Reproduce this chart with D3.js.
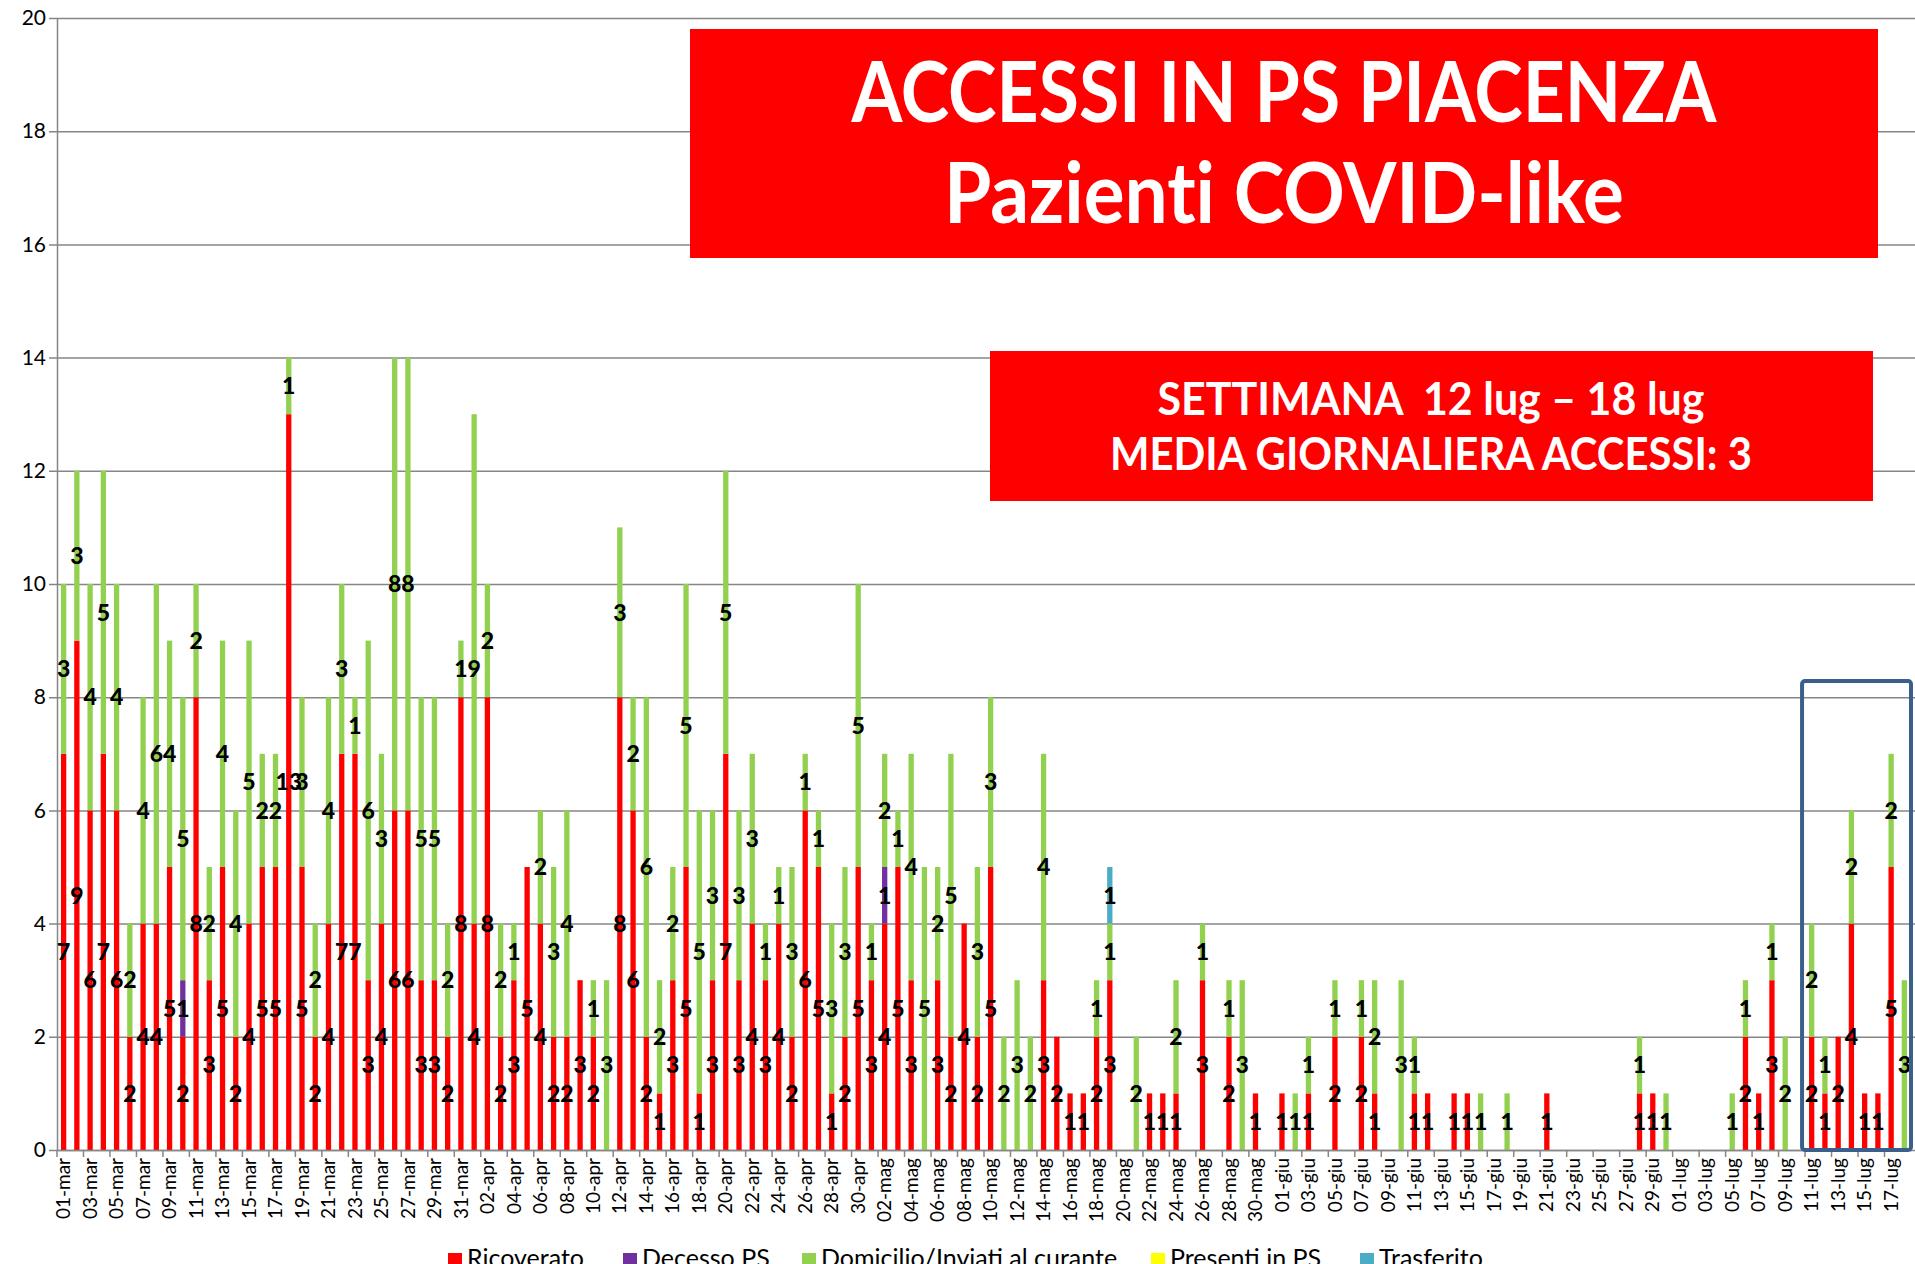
<!DOCTYPE html>
<html>
<head>
<meta charset="utf-8">
<script src="https://cdn.jsdelivr.net/npm/d3@7"></script>
<style>
  body { margin: 0; background: #fff; overflow: hidden; }
</style>
</head>
<body>
<script>
// giorni 01-mar .. 18-lug
const months = [['mar', 31], ['apr', 30], ['mag', 31], ['giu', 30], ['lug', 18]]
const days = []
months.forEach(([m, n]) => {
  for (let i = 1; i <= n; i++) days.push(String(i).padStart(2, '0') + '-' + m)
})

const ricoverato = [
  7, 9, 6, 7, 6, 2, 4, 4, 5, 2, 8, 3, 5, 2, 4, 5, 5, 13, 5, 2, 4, 7, 7, 3, 4, 6, 6, 3, 3, 2, 8,
  4, 8, 2, 3, 5, 4, 2, 2, 3, 2, 0, 8, 6, 2, 1, 3, 5, 1, 3, 7, 3, 4, 3, 4, 2, 6, 5, 1, 2, 5,
  3, 4, 5, 3, 0, 3, 2, 4, 2, 5, 0, 0, 0, 3, 2, 1, 1, 2, 3, 0, 0, 1, 1, 1, 0, 3, 0, 2, 0, 1, 0,
  1, 0, 1, 0, 2, 0, 2, 1, 0, 0, 1, 1, 0, 1, 1, 0, 0, 0, 0, 0, 1, 0, 0, 0, 0, 0, 0, 1, 1, 0,
  0, 0, 0, 0, 0, 2, 1, 3, 0, 0, 2, 1, 2, 4, 1, 1, 5, 0
]
const decesso = [
  0, 0, 0, 0, 0, 0, 0, 0, 0, 1, 0, 0, 0, 0, 0, 0, 0, 0, 0, 0, 0, 0, 0, 0, 0, 0, 0, 0, 0, 0, 0,
  0, 0, 0, 0, 0, 0, 0, 0, 0, 0, 0, 0, 0, 0, 0, 0, 0, 0, 0, 0, 0, 0, 0, 0, 0, 0, 0, 0, 0, 0,
  0, 1, 0, 0, 0, 0, 0, 0, 0, 0, 0, 0, 0, 0, 0, 0, 0, 0, 0, 0, 0, 0, 0, 0, 0, 0, 0, 0, 0, 0, 0,
  0, 0, 0, 0, 0, 0, 0, 0, 0, 0, 0, 0, 0, 0, 0, 0, 0, 0, 0, 0, 0, 0, 0, 0, 0, 0, 0, 0, 0, 0,
  0, 0, 0, 0, 0, 0, 0, 0, 0, 0, 0, 0, 0, 0, 0, 0, 0, 0
]
const domicilio = [
  3, 3, 4, 5, 4, 2, 4, 6, 4, 5, 2, 2, 4, 4, 5, 2, 2, 1, 3, 2, 4, 3, 1, 6, 3, 8, 8, 5, 5, 2, 1,
  9, 2, 2, 1, 0, 2, 3, 4, 0, 1, 3, 3, 2, 6, 2, 2, 5, 5, 3, 5, 3, 3, 1, 1, 3, 1, 1, 3, 3, 5,
  1, 2, 1, 4, 5, 2, 5, 0, 3, 3, 2, 3, 2, 4, 0, 0, 0, 1, 1, 0, 2, 0, 0, 2, 0, 1, 0, 1, 3, 0, 0,
  0, 1, 1, 0, 1, 0, 1, 2, 0, 3, 1, 0, 0, 0, 0, 1, 0, 1, 0, 0, 0, 0, 0, 0, 0, 0, 0, 1, 0, 1,
  0, 0, 0, 0, 1, 1, 0, 1, 2, 0, 2, 1, 0, 2, 0, 0, 2, 3
]
const presenti = [
  0, 0, 0, 0, 0, 0, 0, 0, 0, 0, 0, 0, 0, 0, 0, 0, 0, 0, 0, 0, 0, 0, 0, 0, 0, 0, 0, 0, 0, 0, 0,
  0, 0, 0, 0, 0, 0, 0, 0, 0, 0, 0, 0, 0, 0, 0, 0, 0, 0, 0, 0, 0, 0, 0, 0, 0, 0, 0, 0, 0, 0,
  0, 0, 0, 0, 0, 0, 0, 0, 0, 0, 0, 0, 0, 0, 0, 0, 0, 0, 0, 0, 0, 0, 0, 0, 0, 0, 0, 0, 0, 0, 0,
  0, 0, 0, 0, 0, 0, 0, 0, 0, 0, 0, 0, 0, 0, 0, 0, 0, 0, 0, 0, 0, 0, 0, 0, 0, 0, 0, 0, 0, 0,
  0, 0, 0, 0, 0, 0, 0, 0, 0, 0, 0, 0, 0, 0, 0, 0, 0, 0
]
const trasferito = [
  0, 0, 0, 0, 0, 0, 0, 0, 0, 0, 0, 0, 0, 0, 0, 0, 0, 0, 0, 0, 0, 0, 0, 0, 0, 0, 0, 0, 0, 0, 0,
  0, 0, 0, 0, 0, 0, 0, 0, 0, 0, 0, 0, 0, 0, 0, 0, 0, 0, 0, 0, 0, 0, 0, 0, 0, 0, 0, 0, 0, 0,
  0, 0, 0, 0, 0, 0, 0, 0, 0, 0, 0, 0, 0, 0, 0, 0, 0, 0, 1, 0, 0, 0, 0, 0, 0, 0, 0, 0, 0, 0, 0,
  0, 0, 0, 0, 0, 0, 0, 0, 0, 0, 0, 0, 0, 0, 0, 0, 0, 0, 0, 0, 0, 0, 0, 0, 0, 0, 0, 0, 0, 0,
  0, 0, 0, 0, 0, 0, 0, 0, 0, 0, 0, 0, 0, 0, 0, 0, 0, 0
]

const seriesNames = ['Ricoverato', 'Decesso PS', 'Domicilio/Inviati al curante', 'Presenti in PS', 'Trasferito']
const seriesColors = ['#ff0000', '#7030a0', '#92d050', '#ffff00', '#4bacc6']
const yTicks = [0, 2, 4, 6, 8, 10, 12, 14, 16, 18, 20]

const title1 = ['ACCESSI IN PS PIACENZA', 'Pazienti COVID-like']
const title2 = ['SETTIMANA  12 lug \u2013 18 lug', 'MEDIA GIORNALIERA ACCESSI: 3']

const width = 1915, height = 1264
const x0 = 57, x1 = 1911, yTop = 18, yBot = 1150

const svg = d3.select('body').append('svg')
  .attr('width', width)
  .attr('height', height)

const cols = [ricoverato, decesso, domicilio, presenti, trasferito]
const rows = days.map((d, i) => {
  const r = { day: d }
  seriesNames.forEach((k, j) => { r[k] = cols[j][i] })
  return r
})

const xScale = d3.scaleBand()
  .domain(days)
  .range([x0, x1])
  .paddingInner(0.6)
  .paddingOuter(0.3)

const yScale = d3.scaleLinear()
  .domain([0, 20])
  .range([yBot, yTop])

// griglia + asse y
const yAxis = d3.axisLeft(yScale)
  .tickValues(yTicks)
  .tickSizeInner(-(width - x0))
  .tickSizeOuter(0)
  .tickPadding(11)

const gy = svg.append('g')
  .attr('transform', `translate(${x0},0)`)
  .call(yAxis)
gy.select('.domain').attr('stroke', '#868686').attr('stroke-width', 1.5)
gy.selectAll('.tick line')
  .attr('x1', -8)
  .attr('stroke', '#868686')
  .attr('stroke-width', 1.5)
gy.selectAll('.tick text')
  .style('font-family', 'Lato, "Liberation Sans", sans-serif')
  .style('font-size', '21px')
  .attr('fill', '#000')

// barre impilate
const stack = d3.stack().keys(seriesNames)
const stacked = stack(rows)

const layers = svg.append('g')
  .selectAll('g')
  .data(stacked)
  .join('g')
  .attr('fill', (d, i) => seriesColors[i])

layers.selectAll('rect')
  .data(d => d.filter(p => p[1] - p[0] > 0))
  .join('rect')
  .attr('x', p => xScale(p.data.day))
  .attr('width', xScale.bandwidth())
  .attr('y', p => yScale(p[1]))
  .attr('height', p => yScale(p[0]) - yScale(p[1]))

// asse x
const labelDays = days.filter((d, i) => i % 2 === 0)
const xAxis = d3.axisBottom(xScale)
  .tickValues(labelDays)
  .tickSize(0)
  .tickPadding(0)

const gx = svg.append('g')
  .attr('transform', `translate(0,${yBot})`)
  .call(xAxis)
gx.select('.domain').attr('stroke', '#868686').attr('stroke-width', 1.5)
gx.selectAll('.tick text')
  .attr('transform', 'rotate(-90)')
  .attr('text-anchor', 'end')
  .attr('x', -8)
  .attr('y', 0)
  .attr('dy', '0.35em')
  .style('font-family', 'Lato, "Liberation Sans", sans-serif')
  .style('font-size', '19px')
  .attr('fill', '#000')

// tacche tra le categorie
const gap = xScale.step() - xScale.bandwidth()
gx.selectAll('.tickmark')
  .data(labelDays)
  .join('line')
  .attr('x1', d => xScale(d) - gap / 2)
  .attr('x2', d => xScale(d) - gap / 2)
  .attr('y1', 0)
  .attr('y2', 7)
  .attr('stroke', '#868686')
  .attr('stroke-width', 1.5)

// etichette dati
const labels = svg.append('g')
  .style('font-family', 'Lato, "DejaVu Sans", sans-serif')
  .style('font-weight', '900')
  .style('font-size', '23px')
  .attr('text-anchor', 'middle')

stacked.forEach(layer => {
  labels.selectAll(null)
    .data(layer.filter(p => p[1] - p[0] > 0))
    .join('text')
    .attr('x', p => xScale(p.data.day) + xScale.bandwidth() / 2)
    .attr('y', p => (yScale(p[0]) + yScale(p[1])) / 2)
    .attr('dy', '0.36em')
    .text(p => p[1] - p[0])
})

// riquadro settimana evidenziata
const hlStart = days.indexOf('11-lug')
svg.append('rect')
  .attr('x', xScale(days[hlStart]) - gap / 2 - 3)
  .attr('y', 681)
  .attr('width', x1 - (xScale(days[hlStart]) - gap / 2 - 3))
  .attr('height', yBot - 681)
  .attr('rx', 3)
  .attr('fill', 'none')
  .attr('stroke', '#3a5f8b')
  .attr('stroke-width', 4)

// titolo
svg.append('rect')
  .attr('x', 690).attr('y', 29)
  .attr('width', 1188).attr('height', 229)
  .attr('fill', '#ff0000')

svg.append('g')
  .selectAll('text')
  .data(title1)
  .join('text')
  .attr('x', 1284)
  .attr('y', (d, i) => [122, 223][i])
  .attr('text-anchor', 'middle')
  .attr('textLength', (d, i) => [865, 680][i])
  .attr('lengthAdjust', 'spacingAndGlyphs')
  .style('font-family', 'Lato, "Liberation Sans", sans-serif')
  .style('font-weight', 'bold')
  .style('font-size', '84px')
  .style('font-variant-ligatures', 'none')
  .attr('fill', '#fff')
  .text(d => d)

svg.append('rect')
  .attr('x', 990).attr('y', 351)
  .attr('width', 883).attr('height', 150)
  .attr('fill', '#ff0000')

svg.append('g')
  .selectAll('text')
  .data(title2)
  .join('text')
  .attr('x', 1431)
  .attr('y', (d, i) => [415, 470][i])
  .attr('text-anchor', 'middle')
  .attr('textLength', (d, i) => [547, 642][i])
  .attr('lengthAdjust', 'spacingAndGlyphs')
  .style('white-space', 'pre')
  .style('font-family', 'Lato, "Liberation Sans", sans-serif')
  .style('font-weight', 'bold')
  .style('font-size', '45px')
  .attr('fill', '#fff')
  .text(d => d)

// legenda (tagliata in basso come nell'originale)
const legendX = [448, 623, 802, 1151, 1360]
const legend = svg.append('g')
  .selectAll('g')
  .data(seriesNames)
  .join('g')
  .attr('transform', (d, i) => `translate(${legendX[i]},0)`)

legend.append('rect')
  .attr('y', 1253)
  .attr('width', 14)
  .attr('height', 14)
  .attr('fill', (d, i) => seriesColors[i])

legend.append('text')
  .attr('x', 19)
  .attr('y', 1267)
  .style('font-family', 'Lato, "Liberation Sans", sans-serif')
  .style('font-size', '25px')
  .attr('fill', '#000')
  .text(d => d)
</script>
</body>
</html>
